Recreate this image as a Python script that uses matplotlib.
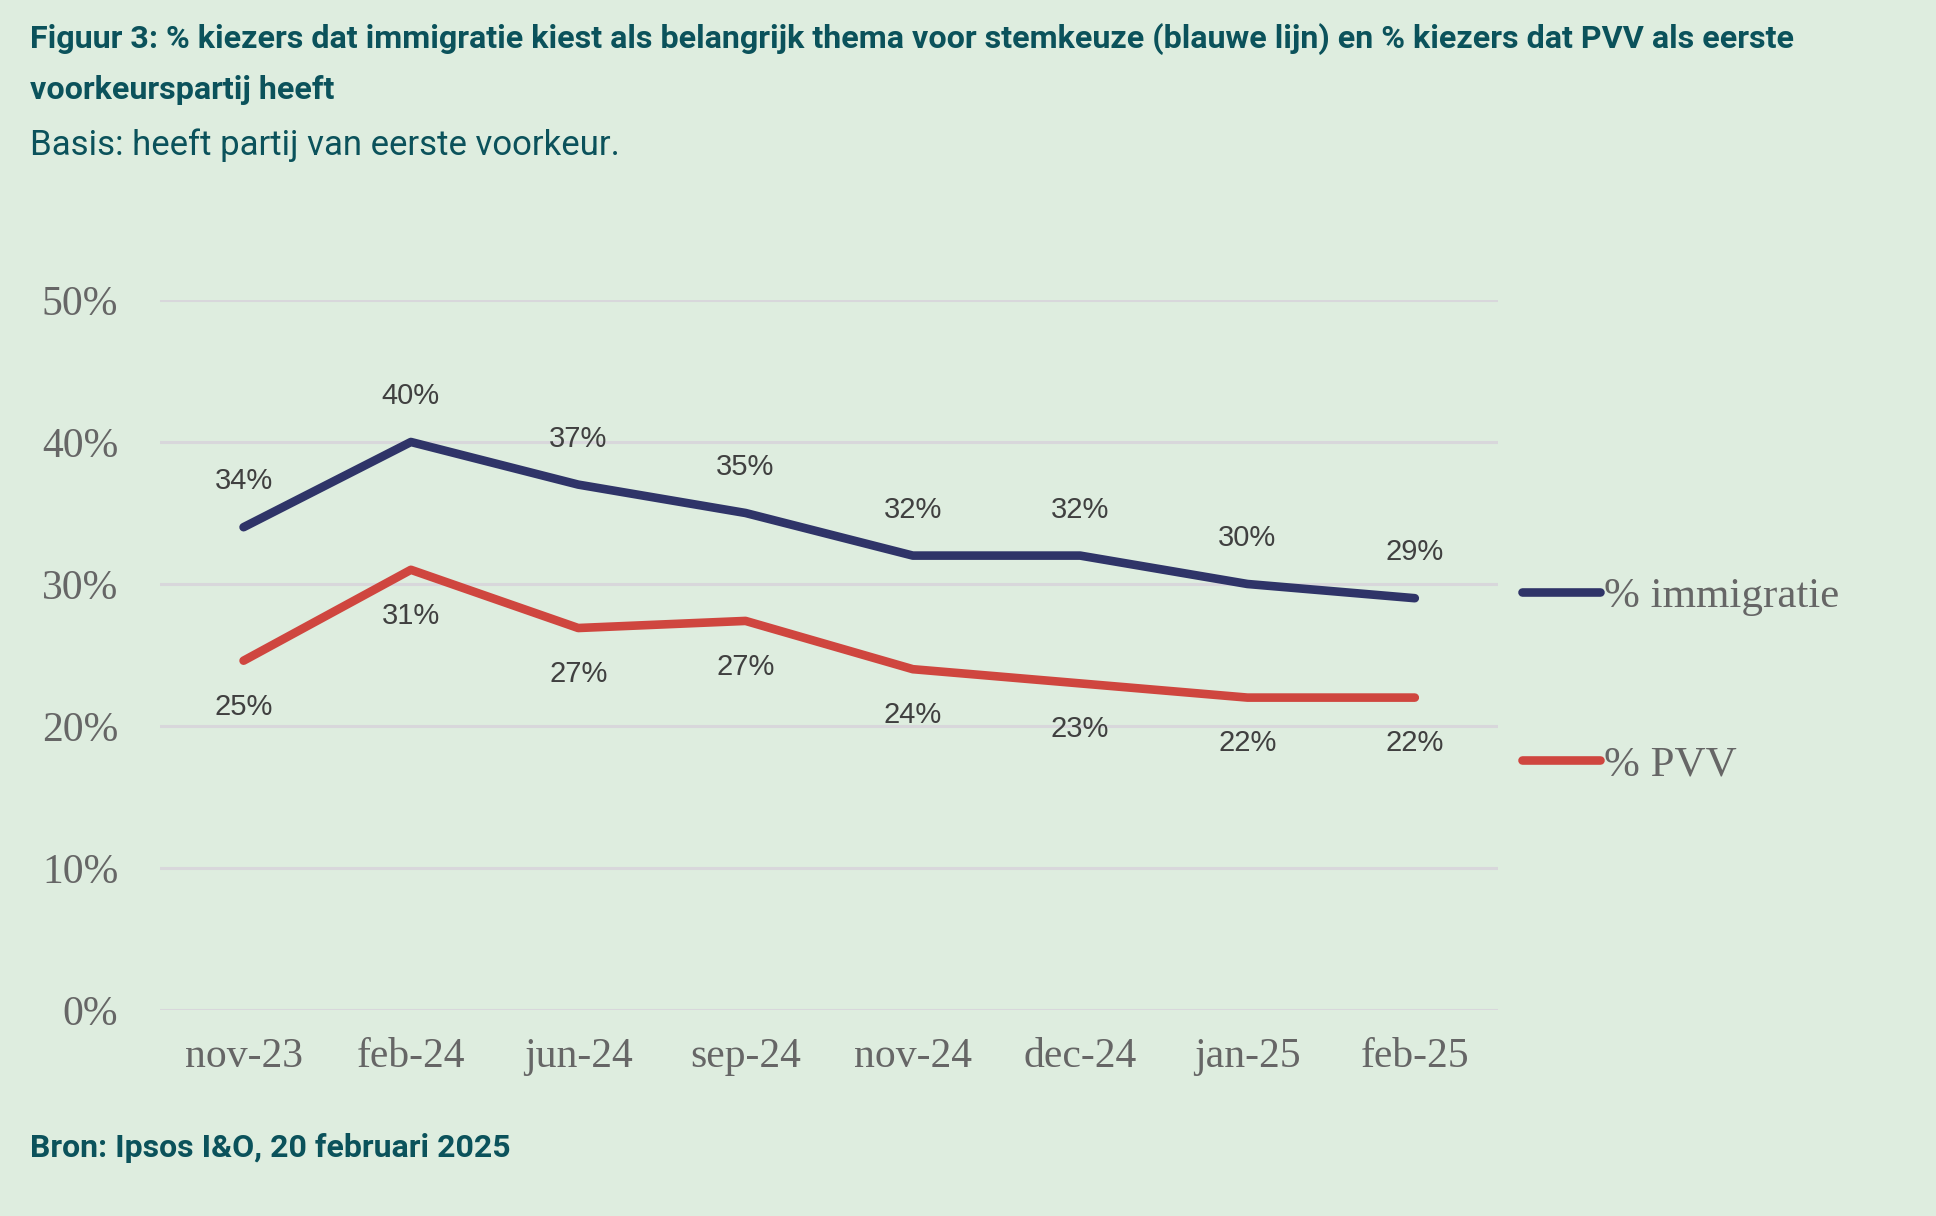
import matplotlib
matplotlib.use("Agg")
import matplotlib.pyplot as plt

# ---- data ----
categories = ["nov-23", "feb-24", "jun-24", "sep-24", "nov-24", "dec-24", "jan-25", "feb-25"]
immigratie = [34, 40, 37, 35, 32, 32, 30, 29]
pvv = [24.6, 31, 26.9, 27.4, 24, 23, 22, 22]
yticks = [0, 10, 20, 30, 40, 50]
series_names = ["% immigratie", "% PVV"]

title = ("Figuur 3: % kiezers dat immigratie kiest als belangrijk thema voor stemkeuze (blauwe lijn) en % kiezers dat PVV als eerste\n"
         "voorkeurspartij heeft")
subtitle = "Basis: heeft partij van eerste voorkeur."
source = "Bron: Ipsos I&O, 20 februari 2025"

# ---- style ----
BG = "#DEEDDF"
TEAL = "#0B525B"
BLUE = "#2F3468"
RED = "#CF463F"
GRID = "#D8D7DB"
TICK = "#666666"
LABEL = "#404040"
TITLE_FONT = ["Roboto", "DejaVu Sans"]
SERIF = ["Liberation Serif", "DejaVu Serif"]
SANS = ["Liberation Sans", "DejaVu Sans"]
LW = 6.2

fig = plt.figure(figsize=(19.36, 12.16), dpi=100, facecolor=BG)
ax = fig.add_axes([0.0826, 0.1694, 0.774 - 0.0826, 0.7533 - 0.1694])
ax.set_facecolor(BG)

x = list(range(len(categories)))
ax.plot(x, immigratie, color=BLUE, lw=LW, solid_capstyle="round", solid_joinstyle="round",
        label=series_names[0], zorder=3)
ax.plot(x, pvv, color=RED, lw=LW, solid_capstyle="round", solid_joinstyle="round",
        label=series_names[1], zorder=3)

for xi, v in zip(x, immigratie):
    ax.annotate(f"{v:.0f}%", (xi, v), xytext=(0, 33), textcoords="offset points",
                ha="center", va="center", fontsize=21, color=LABEL, family=SANS)
for xi, v in zip(x, pvv):
    ax.annotate(f"{v:.0f}%", (xi, v), xytext=(0, -33), textcoords="offset points",
                ha="center", va="center", fontsize=21, color=LABEL, family=SANS)

ax.set_xlim(-0.5, len(categories) - 0.5)
ax.set_ylim(0, 50)
ax.set_yticks(yticks)
ax.set_yticklabels([f"{t}%" for t in yticks], family=SERIF, fontsize=30, color=TICK)
ax.set_xticks(x)
ax.set_xticklabels(categories, family=SERIF, fontsize=30, color=TICK)
ax.tick_params(axis="both", length=0)
ax.tick_params(axis="y", pad=30)
ax.tick_params(axis="x", pad=20)
ax.yaxis.grid(True, color=GRID, lw=2.2)
ax.set_axisbelow(True)
for s in ax.spines.values():
    s.set_visible(False)

leg = ax.legend(loc="upper left", bbox_to_anchor=(1.005, 0.634), frameon=False,
                prop={"family": SERIF, "size": 31}, labelcolor=TICK,
                handlelength=1.8, handletextpad=0.1, labelspacing=3.0,
                borderaxespad=0)
for h in leg.legend_handles:
    h.set_linewidth(LW)

fig.text(0.0155, 0.981, title, ha="left", va="top", fontsize=23.2, fontweight="bold",
         color=TEAL, family=TITLE_FONT, linespacing=1.82)
fig.text(0.0155, 0.881, subtitle, ha="left", va="center", fontsize=25,
         color=TEAL, family=TITLE_FONT)
fig.text(0.0155, 0.056, source, ha="left", va="center", fontsize=23, fontweight="bold",
         color=TEAL, family=TITLE_FONT)

fig.savefig("out.png", dpi=100, facecolor=BG)
